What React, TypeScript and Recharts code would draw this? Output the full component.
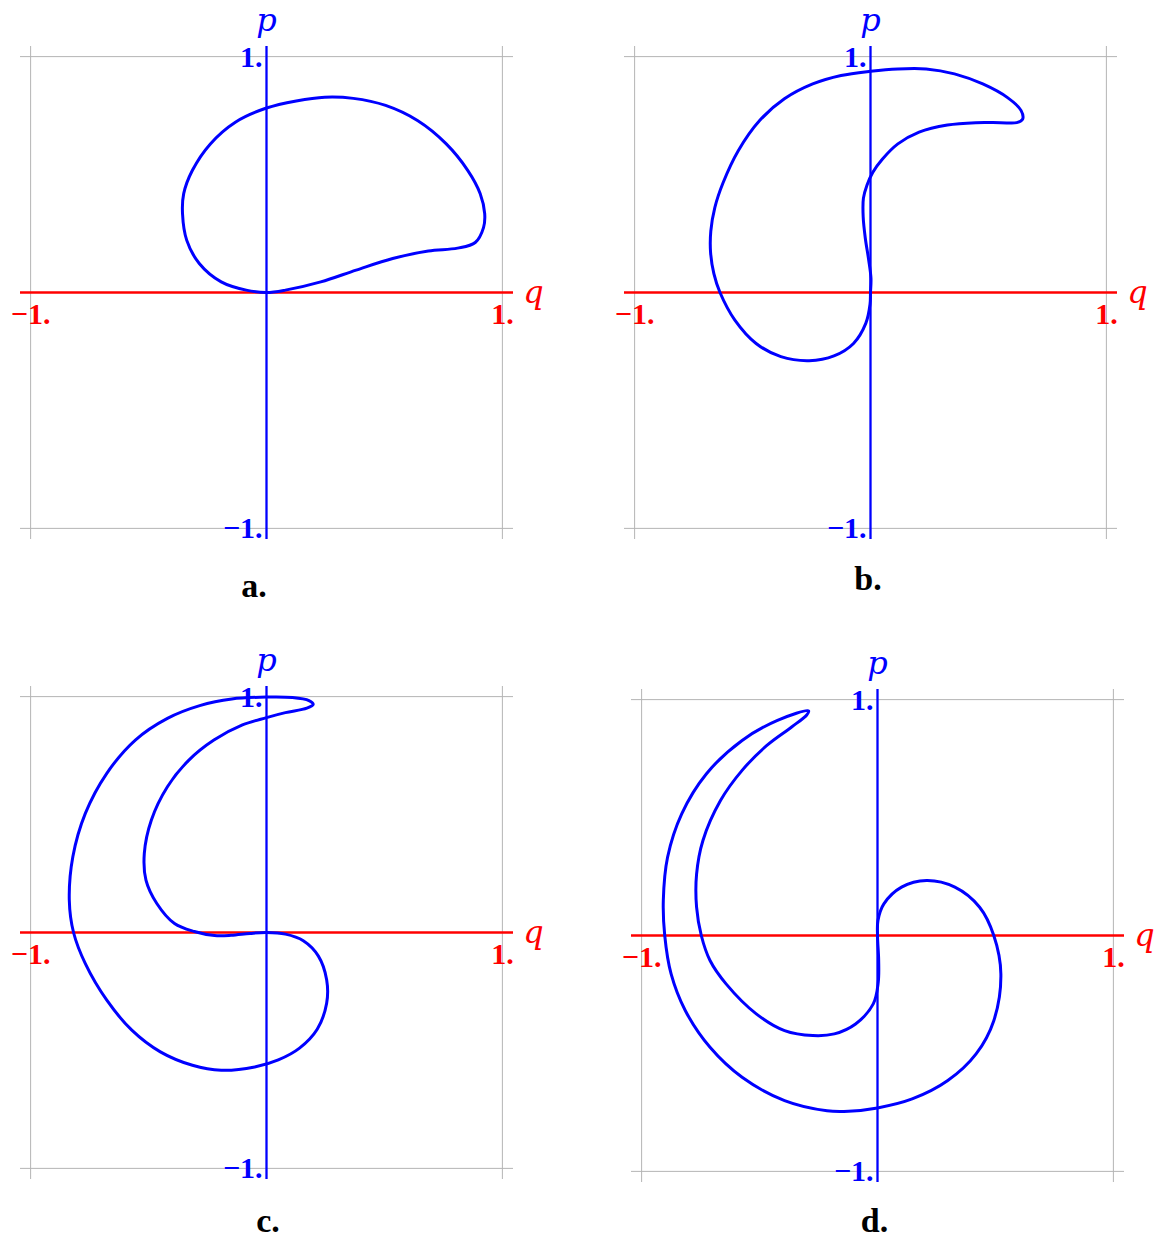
import React from "react";
import { LineChart, Line, XAxis, YAxis, ReferenceLine, ReferenceDot } from "recharts";

// phase portraits, (q, p) pairs
const curveA: [number, number][] = [
  [0, 0], [0.08, 0.01], [0.23, 0.045], [0.38, 0.095], [0.535, 0.144], [0.686, 0.176],
  [0.81, 0.188], [0.885, 0.212], [0.92, 0.275], [0.925, 0.334], [0.906, 0.419],
  [0.853, 0.518], [0.762, 0.63], [0.64, 0.729], [0.505, 0.793], [0.368, 0.823],
  [0.247, 0.828], [0.126, 0.812], [0, 0.782], [-0.132, 0.722], [-0.238, 0.63],
  [-0.314, 0.518], [-0.351, 0.419], [-0.356, 0.334], [-0.338, 0.221], [-0.285, 0.123],
  [-0.192, 0.045], [-0.086, 0.01],
];

const curveB: [number, number][] = [
  [0, 0], [0.002, 0.06], [-0.008, 0.14], [-0.022, 0.23], [-0.031, 0.32], [-0.03, 0.4],
  [-0.015, 0.455], [0.01, 0.51], [0.05, 0.565], [0.116, 0.63], [0.206, 0.68],
  [0.326, 0.71], [0.446, 0.72], [0.551, 0.72], [0.62, 0.72], [0.645, 0.735],
  [0.638, 0.772], [0.581, 0.826], [0.476, 0.884], [0.356, 0.927], [0.236, 0.948],
  [0.116, 0.948], [0, 0.938], [-0.125, 0.92], [-0.245, 0.884], [-0.365, 0.821],
  [-0.47, 0.729], [-0.56, 0.602], [-0.625, 0.465], [-0.66, 0.36], [-0.677, 0.26],
  [-0.678, 0.17], [-0.664, 0.08], [-0.638, 0], [-0.575, -0.117], [-0.485, -0.216],
  [-0.38, -0.272], [-0.26, -0.289], [-0.155, -0.269], [-0.072, -0.216], [-0.02, -0.131],
  [-0.002, -0.05],
];

const curveC: [number, number][] = [
  [0, 0], [0.08, -0.007], [0.156, -0.035], [0.22, -0.1], [0.255, -0.2], [0.255, -0.3],
  [0.215, -0.41], [0.14, -0.49], [0.05, -0.54], [-0.05, -0.57], [-0.192, -0.584],
  [-0.314, -0.563], [-0.45, -0.506], [-0.571, -0.414], [-0.677, -0.287], [-0.768, -0.132],
  [-0.818, 0], [-0.836, 0.137], [-0.821, 0.321], [-0.768, 0.505], [-0.677, 0.675],
  [-0.556, 0.816], [-0.42, 0.908], [-0.283, 0.962], [-0.147, 0.99], [0, 0.998],
  [0.11, 0.996], [0.18, 0.983], [0.198, 0.967], [0.171, 0.951], [0.08, 0.932],
  [0, 0.911], [-0.102, 0.88], [-0.223, 0.816], [-0.329, 0.731], [-0.42, 0.618],
  [-0.488, 0.477], [-0.518, 0.335], [-0.511, 0.222], [-0.465, 0.123], [-0.39, 0.038],
  [-0.306, 0.004], [-0.22, -0.013], [-0.15, -0.012], [-0.07, -0.004],
];

const curveD: [number, number][] = [
  [-0.292, 0.952], [-0.424, 0.912], [-0.574, 0.827], [-0.725, 0.686], [-0.83, 0.516],
  [-0.89, 0.332], [-0.908, 0.149], [-0.902, 0], [-0.875, -0.163], [-0.815, -0.318],
  [-0.71, -0.474], [-0.574, -0.601], [-0.394, -0.7], [-0.214, -0.743], [-0.123, -0.745],
  [0, -0.731], [0.147, -0.693], [0.298, -0.615], [0.418, -0.502], [0.493, -0.361],
  [0.523, -0.163], [0.493, 0], [0.433, 0.12], [0.328, 0.205], [0.208, 0.233],
  [0.102, 0.205], [0.027, 0.134], [0.002, 0.064], [0, 0], [0.005, -0.106],
  [0.003, -0.2], [-0.018, -0.29], [-0.093, -0.375], [-0.183, -0.417], [-0.274, -0.424],
  [-0.394, -0.403], [-0.514, -0.332], [-0.642, -0.205], [-0.71, -0.106], [-0.747, 0],
  [-0.767, 0.12], [-0.767, 0.26], [-0.74, 0.403], [-0.665, 0.573], [-0.574, 0.7],
  [-0.469, 0.806], [-0.364, 0.884], [-0.3, 0.935],
];

const gridValues = [-1, 1];
const qTickLabels = [{ q: -1, text: "\u22121." }, { q: 1, text: "1." }];
const pTickLabels = [{ p: 1, text: "1." }, { p: -1, text: "\u22121." }];
const captions = ["a.", "b.", "c.", "d."];

const AXIS_DOMAIN: [number, number] = [-1.045, 1.045];
const RED = "#ff0000";
const BLUE = "#0000ff";
const GRID = "#b4b4b4";
const SERIF = "'Liberation Serif', 'Times New Roman', serif";

// closed centripetal catmull-rom, so the loops come out smooth
function closedCatmullRom(context: any) {
  let pts: number[][] = [];
  return {
    areaStart() {},
    areaEnd() {},
    lineStart() {
      pts = [];
    },
    point(x: number, y: number) {
      pts.push([+x, +y]);
    },
    lineEnd() {
      const n = pts.length;
      if (!n) return;
      context.moveTo(pts[0][0], pts[0][1]);
      for (let i = 0; i < n; i++) {
        const p0 = pts[(i - 1 + n) % n];
        const p1 = pts[i];
        const p2 = pts[(i + 1) % n];
        const p3 = pts[(i + 2) % n];
        const l01 = Math.hypot(p1[0] - p0[0], p1[1] - p0[1]);
        const l12 = Math.hypot(p2[0] - p1[0], p2[1] - p1[1]);
        const l23 = Math.hypot(p3[0] - p2[0], p3[1] - p2[1]);
        const l01a = Math.sqrt(l01);
        const l12a = Math.sqrt(l12);
        const l23a = Math.sqrt(l23);
        let c1x = p1[0], c1y = p1[1], c2x = p2[0], c2y = p2[1];
        if (l01a > 1e-6) {
          const a = 2 * l01 + 3 * l01a * l12a + l12;
          const m = 3 * l01a * (l01a + l12a);
          c1x = (p1[0] * a - p0[0] * l12 + p2[0] * l01) / m;
          c1y = (p1[1] * a - p0[1] * l12 + p2[1] * l01) / m;
        }
        if (l23a > 1e-6) {
          const b = 2 * l23 + 3 * l23a * l12a + l12;
          const m = 3 * l23a * (l23a + l12a);
          c2x = (p2[0] * b + p1[0] * l23 - p3[0] * l12) / m;
          c2y = (p2[1] * b + p1[1] * l23 - p3[1] * l12) / m;
        }
        context.bezierCurveTo(c1x, c1y, c2x, c2y, p2[0], p2[1]);
      }
      context.closePath();
    },
  };
}

function textShape(
  text: string,
  color: string,
  dx: number,
  dy: number,
  anchor: "start" | "middle" | "end",
  style: { size: number; weight?: string; italic?: boolean; family?: string }
) {
  return (props: any) => (
    <text
      x={props.cx + dx}
      y={props.cy + dy}
      textAnchor={anchor}
      fill={color}
      fontFamily={style.family ?? SERIF}
      fontSize={style.size}
      fontWeight={style.weight ?? "normal"}
      fontStyle={style.italic ? "italic" : "normal"}
    >
      {text}
    </text>
  );
}

const tickStyle = { size: 30, weight: "bold" };
const scriptStyle = { size: 32, italic: true, family: "'DejaVu Serif', serif" };

function Panel({ points, cx, cy }: { points: [number, number][]; cx: number; cy: number }) {
  const data = points.map(([q, p]) => ({ q, p }));
  return (
    <div style={{ position: "absolute", left: cx - 276.5, top: cy - 296.5 }}>
      <LineChart
        width={600}
        height={640}
        margin={{ top: 50, left: 30, right: 77, bottom: 97 }}
        style={{ overflow: "visible" }}
      >
        <XAxis type="number" dataKey="q" domain={AXIS_DOMAIN} allowDataOverflow hide />
        <YAxis type="number" domain={AXIS_DOMAIN} allowDataOverflow hide />
        {gridValues.map((v) => (
          <ReferenceLine key={"gx" + v} x={v} stroke={GRID} strokeWidth={1} />
        ))}
        {gridValues.map((v) => (
          <ReferenceLine key={"gy" + v} y={v} stroke={GRID} strokeWidth={1} />
        ))}
        <ReferenceLine y={0} stroke={RED} strokeWidth={2.6} />
        <ReferenceLine x={0} stroke={BLUE} strokeWidth={2.3} />
        <Line
          data={data}
          dataKey="p"
          type={closedCatmullRom as any}
          stroke={BLUE}
          strokeWidth={3}
          dot={false}
          activeDot={false}
          isAnimationActive={false}
        />
        {qTickLabels.map((t) => (
          <ReferenceDot
            key={"ql" + t.q}
            x={t.q}
            y={0}
            r={0}
            shape={textShape(t.text, RED, 0, 31, "middle", tickStyle)}
          />
        ))}
        {pTickLabels.map((t) => (
          <ReferenceDot
            key={"pl" + t.p}
            x={0}
            y={t.p}
            r={0}
            shape={textShape(t.text, BLUE, -4, 10, "end", tickStyle)}
          />
        ))}
        <ReferenceDot x={1} y={0} r={0} shape={textShape("q", RED, 31, 10, "middle", scriptStyle)} />
        <ReferenceDot x={0} y={1} r={0} shape={textShape("p", BLUE, 0, -26, "middle", scriptStyle)} />
      </LineChart>
    </div>
  );
}

function Caption({ text, x, baseline }: { text: string; x: number; baseline: number }) {
  return (
    <div
      style={{
        position: "absolute",
        left: x - 50,
        top: baseline - 28.5,
        width: 100,
        textAlign: "center",
        fontFamily: SERIF,
        fontWeight: "bold",
        fontSize: 34,
        lineHeight: "34px",
        color: "#000",
      }}
    >
      {text}
    </div>
  );
}

export default function App() {
  return (
    <div
      style={{
        position: "absolute",
        left: 0,
        top: 0,
        width: 1155,
        height: 1238,
        overflow: "hidden",
        background: "#fff",
      }}
    >
      <Panel points={curveA} cx={266.5} cy={292.5} />
      <Panel points={curveB} cx={870} cy={292.5} />
      <Panel points={curveC} cx={266} cy={932.5} />
      <Panel points={curveD} cx={877} cy={935} />
      <Caption text={captions[0]} x={254} baseline={597} />
      <Caption text={captions[1]} x={868} baseline={590} />
      <Caption text={captions[2]} x={268} baseline={1232} />
      <Caption text={captions[3]} x={874.5} baseline={1232} />
    </div>
  );
}
